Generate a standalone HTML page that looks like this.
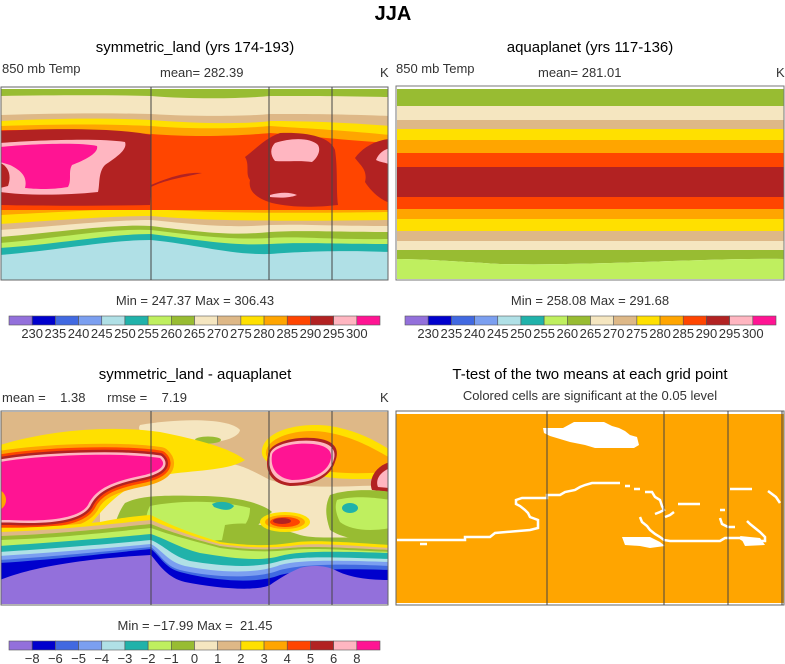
<!DOCTYPE html>
<html><head><meta charset="utf-8"><style>
body{margin:0;background:#fff;}
svg{display:block;font-family:"Liberation Sans",sans-serif;}
</style></head><body>
<svg id="fig" width="785" height="664" viewBox="0 0 785 664">
<text x="393" y="20" font-size="20" font-weight="bold" text-anchor="middle">JJA</text>

<text x="195" y="52" font-size="15" text-anchor="middle">symmetric_land (yrs 174-193)</text>
<text x="2" y="73" font-size="13" fill="#333">850 mb Temp</text>
<text x="160" y="77" font-size="13" fill="#333">mean= 282.39</text>
<text x="380" y="77" font-size="13" fill="#333">K</text>

<text x="590" y="52" font-size="15" text-anchor="middle">aquaplanet (yrs 117-136)</text>
<text x="396" y="73" font-size="13" fill="#333">850 mb Temp</text>
<text x="538" y="77" font-size="13" fill="#333">mean= 281.01</text>
<text x="776" y="77" font-size="13" fill="#333">K</text>

<!-- Panel 1: symmetric_land -->
<g>
<clipPath id="c1"><rect x="1" y="87" width="387" height="193"/></clipPath>
<g clip-path="url(#c1)">
<rect x="1" y="87" width="387" height="193" fill="#B0E0E6"/>
<path d="M0 255 C60 250 110 240 151 240 C200 245 230 255 270 254 C300 252 330 250 390 252 L390 87 L0 87Z" fill="#20B2AA"/>
<path d="M0 248 C60 244 110 234 151 234 C200 240 230 246 270 244 C300 242 330 244 390 244 L390 87 L0 87Z" fill="#BFEF5F"/>
<path d="M0 243 C60 238 110 228 151 230 C200 236 230 240 270 238 C300 236 330 240 390 239 L390 87 L0 87Z" fill="#98BC32"/>
<path d="M0 237 C60 232 110 224 151 226 C200 232 230 236 270 232 C300 230 330 232 390 232 L390 87 L0 87Z" fill="#F5E6C0"/>
<path d="M0 230 C60 226 110 220 151 220 C200 225 230 228 270 225 C300 224 330 226 390 226 L390 87 L0 87Z" fill="#DEB887"/>
<path d="M0 224 C60 220 110 216 151 216 C200 220 250 222 390 220 L390 87 L0 87Z" fill="#FFE000"/>
<path d="M0 215 C60 212 110 209 151 209 C200 212 250 214 390 212 L390 87 L0 87Z" fill="#FFA500"/>
<path d="M0 210 L390 210 L390 87 L0 87Z" fill="#FF4500"/>
<path d="M0 130 C60 130 110 132 151 134 C200 138 250 135 270 133 C300 135 340 140 390 143 L390 87 L0 87Z" fill="#FFA500"/>
<path d="M0 126 C60 124 110 124 151 126 C200 130 250 128 270 126 C300 128 340 130 390 135 L390 87 L0 87Z" fill="#FFE000"/>
<path d="M0 121 C60 118 110 118 151 120 C200 124 250 124 270 121 C300 121 340 122 390 126 L390 87 L0 87Z" fill="#DEB887"/>
<path d="M0 115 C60 113 110 113 151 114 C200 117 250 116 270 114 C300 114 340 114 390 116 L390 87 L0 87Z" fill="#F5E6C0"/>
<path d="M0 96 C60 95 110 95 151 96 C200 100 250 98 270 96 C300 96 340 96 390 97 L390 87 L0 87Z" fill="#98BC32"/>
<rect x="0" y="87" width="390" height="2" fill="#fff"/>
<path d="M0 131 C50 128 120 128 151 135 L151 185 C170 177 185 172 202 173 C180 178 165 180 151 187 L150 205 C100 206 40 206 0 205Z" fill="#B22222"/>
<path d="M0 143 C40 140 100 138 125 142 C128 150 115 158 105 165 C98 172 100 185 98 192 C60 196 20 195 0 192Z" fill="#FFB6C1"/>
<path d="M0 147 C30 144 80 142 97 146 C99 153 85 160 72 165 C68 172 72 180 68 187 C50 190 35 189 25 188 C28 176 20 170 10 165 L0 162Z" fill="#FF1493"/>
<path d="M0 163 C8 166 12 175 8 186 L0 188Z" fill="#B22222"/>
<path d="M280 133 C305 132 330 136 335 150 C338 170 336 190 338 205 C310 208 290 207 272 203 C255 198 248 190 250 180 C245 174 250 165 245 157 C255 150 265 138 280 133Z" fill="#B22222"/>
<path d="M275 143 C290 138 310 137 318 145 C322 152 315 160 312 162 C300 160 285 162 275 161 C270 155 270 148 275 143Z" fill="#FFB6C1"/>
<path d="M270 195 C280 192 290 192 297 195 C290 198 280 198 270 197Z" fill="#FFB6C1"/>
<path d="M390 139 C375 140 362 148 355 158 C360 165 368 170 365 182 C370 190 380 200 390 203Z" fill="#B22222"/>
<path d="M390 148 C382 150 378 155 376 160 C382 163 386 162 390 165Z" fill="#FFB6C1"/>
</g>
<rect x="1" y="87" width="387" height="193" fill="none" stroke="#666" stroke-width="1"/>
<line x1="151" y1="87" x2="151" y2="280" stroke="#444"/>
<line x1="269" y1="87" x2="269" y2="280" stroke="#444"/>
<line x1="332" y1="87" x2="332" y2="280" stroke="#444"/>
</g>

<!-- Panel 2: aquaplanet -->
<g>
<rect x="396" y="87" width="388" height="193" fill="#fff"/>
<rect x="397" y="89" width="387" height="18" fill="#98BC32"/>
<rect x="397" y="106" width="387" height="14" fill="#F5E6C0"/>
<rect x="397" y="120" width="387" height="9" fill="#DEB887"/>
<rect x="397" y="129" width="387" height="11" fill="#FFE000"/>
<rect x="397" y="140" width="387" height="13" fill="#FFA500"/>
<rect x="397" y="153" width="387" height="14" fill="#FF4500"/>
<rect x="397" y="167" width="387" height="30" fill="#B22222"/>
<rect x="397" y="197" width="387" height="12" fill="#FF4500"/>
<rect x="397" y="209" width="387" height="10" fill="#FFA500"/>
<rect x="397" y="219" width="387" height="12" fill="#FFE000"/>
<rect x="397" y="231" width="387" height="10" fill="#DEB887"/>
<rect x="397" y="241" width="387" height="9" fill="#F5E6C0"/>
<path d="M397 250 L784 250 L784 259 C700 258 600 266 500 264 C450 261 420 259 397 259Z" fill="#98BC32"/>
<path d="M397 259 C420 259 450 261 500 264 C600 266 700 258 784 259 L784 279 L397 279Z" fill="#BFEF5F"/>
<rect x="396" y="86" width="388" height="194" fill="none" stroke="#777" stroke-width="1"/>
</g>

<text x="195" y="305" font-size="13" fill="#333" text-anchor="middle">Min = 247.37 Max = 306.43</text>
<text x="590" y="305" font-size="13" fill="#333" text-anchor="middle">Min = 258.08 Max = 291.68</text>
<g id="cb1"></g>
<g id="cb2"></g>

<text x="195" y="379" font-size="15" text-anchor="middle">symmetric_land - aquaplanet</text>
<text x="2" y="402" font-size="13" fill="#333" xml:space="preserve">mean =    1.38      rmse =    7.19</text>
<text x="380" y="402" font-size="13" fill="#333">K</text>

<!-- Panel 3: difference -->
<g>
<clipPath id="c3"><rect x="1" y="412" width="387" height="193"/></clipPath>
<g clip-path="url(#c3)">
<rect x="0" y="410" width="390" height="196" fill="#DEB887"/>
<path d="M140 425 C180 418 230 418 240 430 C238 442 200 446 170 443 C150 440 135 432 140 425Z" fill="#F5E6C0"/>
<ellipse cx="208" cy="440" rx="13" ry="3.5" fill="#98BC32"/>
<!-- middle cream region -->
<path d="M100 490 C130 470 170 460 210 462 C240 462 250 470 270 480 C300 490 350 486 390 485 L390 545 L100 545Z" fill="#F5E6C0"/>
<!-- yellow fringe -->
<path d="M0 445 C50 430 110 425 160 432 C200 440 230 448 245 460 C230 470 200 470 170 474 C130 480 110 500 90 525 C60 535 20 535 0 535Z" fill="#FFE000"/>
<!-- left magenta blob with rings -->
<g stroke-linejoin="round">
<path id="blobL" d="M0 462 C40 455 120 452 160 458 C168 465 160 472 140 476 C110 482 95 490 88 505 C80 518 50 522 10 520 L0 520Z" fill="#FFA500" stroke="#FFA500" stroke-width="22"/>
<path d="M0 462 C40 455 120 452 160 458 C168 465 160 472 140 476 C110 482 95 490 88 505 C80 518 50 522 10 520 L0 520Z" fill="#FF4500" stroke="#FF4500" stroke-width="15"/>
<path d="M0 462 C40 455 120 452 160 458 C168 465 160 472 140 476 C110 482 95 490 88 505 C80 518 50 522 10 520 L0 520Z" fill="#B22222" stroke="#B22222" stroke-width="10"/>
<path d="M0 462 C40 455 120 452 160 458 C168 465 160 472 140 476 C110 482 95 490 88 505 C80 518 50 522 10 520 L0 520Z" fill="#FFB6C1" stroke="#FFB6C1" stroke-width="5"/>
<path d="M0 462 C40 455 120 452 160 458 C168 465 160 472 140 476 C110 482 95 490 88 505 C80 518 50 522 10 520 L0 520Z" fill="#FF1493"/>
</g>
<path d="M0 490 C8 495 8 505 0 510Z" fill="#FFA500"/>
<!-- right yellow/magenta blob -->
<path d="M262 450 C265 430 300 422 330 426 C355 430 375 440 390 450 L390 478 C360 480 320 480 300 470 C275 468 260 462 262 450Z" fill="#FFE000"/>
<path d="M266 452 C268 436 300 428 325 432 C350 436 370 446 390 458 L390 472 C360 474 330 474 310 468 C285 466 264 462 266 452Z" fill="#FFA500"/>
<path d="M268 455 C268 444 290 436 314 438 C336 440 340 450 335 462 C330 478 312 486 290 486 C272 484 264 472 268 455Z" fill="#B22222"/>
<path d="M270 455 C270 446 291 439 314 441 C334 443 337 452 333 462 C328 476 311 483 290 483 C274 481 267 470 270 455Z" fill="#FFB6C1"/>
<path d="M272 455 C273 448 292 442 313 444 C331 446 333 454 330 462 C325 474 310 480 292 480 C277 478 270 468 272 455Z" fill="#FF1493"/>
<path d="M390 462 C375 466 368 480 372 490 L390 492Z" fill="#B22222"/>
<path d="M390 468 C380 472 375 480 378 487 L390 488Z" fill="#FFB6C1"/>
<!-- right green area -->
<path d="M330 495 C350 488 380 490 390 492 L390 540 C370 542 345 540 330 530 C325 515 325 505 330 495Z" fill="#98BC32"/>
<path d="M337 500 C355 495 378 498 390 500 L390 528 C370 532 350 530 340 522 C335 512 335 505 337 500Z" fill="#BFEF5F"/>
<ellipse cx="350" cy="508" rx="8" ry="5" fill="#20B2AA"/>
<!-- middle green -->
<path d="M125 503 C140 496 160 495 200 496 C240 496 265 505 272 512 C262 520 248 535 245 542 C220 546 195 545 165 543 C140 542 125 540 110 537 C115 525 118 512 125 503Z" fill="#98BC32"/>
<path d="M150 506 C180 500 220 500 250 508 C250 520 245 530 225 540 C200 542 175 538 150 536 C145 525 145 515 150 506Z" fill="#BFEF5F"/>
<path d="M212 504 C220 500 230 502 234 506 C230 512 222 510 214 507Z" fill="#20B2AA"/>
<path d="M225 525 C250 520 280 528 300 535 C320 540 340 535 390 540 L390 548 L220 550Z" fill="#98BC32"/>
<!-- red spot -->
<ellipse cx="285" cy="522" rx="25" ry="10" fill="#FFE000"/>
<ellipse cx="285" cy="522" rx="20" ry="7" fill="#FFA500"/>
<ellipse cx="285" cy="522" rx="15" ry="5" fill="#FF4500"/>
<ellipse cx="282" cy="521" rx="9" ry="3" fill="#B22222"/>
<!-- lower bands -->
<path d="M0 528 C40 528 80 524 100 522 C120 518 135 516 151 515 C170 525 190 533 220 542 C250 546 270 546 290 543 C310 540 330 541 390 545 L390 606 L0 606Z" fill="#FFE000"/>
<path d="M0 532 C60 530 110 524 151 520 C170 528 190 536 220 544 C250 548 270 548 290 546 C310 543 330 544 390 548 L390 606 L0 606Z" fill="#DEB887"/>
<path d="M0 536 C60 534 110 528 151 524 C170 532 190 538 220 546 C250 550 270 550 290 548 C310 546 330 547 390 550 L390 606 L0 606Z" fill="#98BC32"/>
<path d="M0 540 C60 538 110 532 151 528 C170 535 190 540 220 548 C250 552 270 552 290 550 C310 548 330 549 390 552 L390 606 L0 606Z" fill="#BFEF5F"/>
<path d="M0 546 C60 542 110 538 151 534 C168 540 180 548 200 553 C230 558 260 562 280 556 C300 551 330 551 390 553 L390 606 L0 606Z" fill="#20B2AA"/>
<path d="M0 552 C60 548 110 544 151 540 C165 546 172 556 190 561 C220 566 255 569 280 561 C300 556 330 557 390 559 L390 606 L0 606Z" fill="#B0E0E6"/>
<path d="M0 556 C60 552 110 548 151 544 C162 550 168 562 185 566 C215 572 255 575 280 565 C300 560 330 560 390 562 L390 606 L0 606Z" fill="#7B9FF0"/>
<path d="M0 560 C60 556 110 551 151 547 C160 554 165 566 180 570 C210 577 255 580 280 570 C300 565 330 563 390 566 L390 606 L0 606Z" fill="#4169E1"/>
<path d="M0 563 C60 559 110 553 151 549 C160 556 165 568 180 572 C210 580 255 585 280 575 C300 570 330 568 390 570 L390 606 L0 606Z" fill="#0000CD"/>
<path d="M0 580 C20 572 60 560 151 555 C160 566 168 578 185 582 C215 588 255 592 270 585 C280 578 290 572 300 568 C310 565 325 565 335 570 C350 578 370 580 390 580 L390 606 L0 606Z" fill="#9370DB"/>
<rect x="0" y="604" width="390" height="2" fill="#fff"/>
</g>
<rect x="1" y="411" width="387" height="194" fill="none" stroke="#666" stroke-width="1"/>
<line x1="151" y1="411" x2="151" y2="605" stroke="#444"/>
<line x1="269" y1="411" x2="269" y2="605" stroke="#444"/>
<line x1="332" y1="411" x2="332" y2="605" stroke="#444"/>
</g>

<text x="590" y="379" font-size="15" text-anchor="middle">T-test of the two means at each grid point</text>
<text x="590" y="400" font-size="13" fill="#333" text-anchor="middle">Colored cells are significant at the 0.05 level</text>

<!-- Panel 4: t-test -->
<g>
<rect x="396" y="412" width="388" height="193" fill="#FFA500"/>
<rect x="396" y="411" width="388" height="3" fill="#fff"/>
<rect x="396" y="603" width="388" height="2" fill="#fff"/>
<path d="M543 428 L563 428 L574 422 L604 422 L612 426 L619 428 L625 431 L630 435 L637 437 L639 445 L634 448 L595 448 L585 445 L570 442 L560 439 L550 436 L544 433Z" fill="#fff"/>
<g fill="none" stroke="#fff" stroke-width="2.5" stroke-linejoin="miter">
<polyline points="397,540 465,540 465,537 490,537 495,533 530,530 538,528 538,520 530,517 528,513 525,510 520,506 516,504 516,500 522,498 547,498 547,495 560,495 565,492 575,490 580,487 585,485 592,483 620,483"/>
<polyline points="420,544 427,544"/>
<polyline points="625,486 630,486"/>
<polyline points="634,489 640,489"/>
<polyline points="645,492 652,492 655,497 660,500 662,506 664,510 660,512 655,514"/>
<polyline points="640,517 642,522 647,526 650,530 655,534 660,537 664,540 670,541 720,541 725,538 740,538 745,541 765,541 765,537 760,532 755,528 750,524 747,521"/>
<polyline points="678,504 700,504"/>
<polyline points="730,489 752,489"/>
<polyline points="768,491 776,497 780,503"/>
<polyline points="720,510 725,510"/>
<polyline points="720,518 722,524 728,527 735,527"/>
<polyline points="674,512 670,515 665,517"/>
</g>
<path d="M622 537 L650 537 L660 542 L665 546 L650 548 L640 546 L625 545Z" fill="#fff"/>
<path d="M740 536 L760 538 L765 545 L745 546Z" fill="#fff"/>
<rect x="396" y="411" width="388" height="194" fill="none" stroke="#666" stroke-width="1"/>
<line x1="547" y1="411" x2="547" y2="605" stroke="#444"/>
<line x1="664" y1="411" x2="664" y2="605" stroke="#444"/>
<line x1="728" y1="411" x2="728" y2="605" stroke="#444"/>
<line x1="782" y1="411" x2="782" y2="605" stroke="#444"/>
</g>

<text x="195" y="630" font-size="13" fill="#333" text-anchor="middle" xml:space="preserve">Min = −17.99 Max =  21.45</text>
<g id="cb3"></g>
</svg>
<script>
const colors = ["#9370DB","#0000CD","#4169E1","#7B9FF0","#B0E0E6","#20B2AA","#BFEF5F","#98BC32","#F5E6C0","#DEB887","#FFE000","#FFA500","#FF4500","#B22222","#FFB6C1","#FF1493"];
const tempLevels = ["230","235","240","245","250","255","260","265","270","275","280","285","290","295","300"];
const diffLevels = ["−8","−6","−5","−4","−3","−2","−1","0","1","2","3","4","5","6","8"];
const NS = "http://www.w3.org/2000/svg";
function colorbar(id, x0, x1, y, labels) {
  const g = document.getElementById(id);
  const w = (x1 - x0) / colors.length;
  colors.forEach((c, i) => {
    const r = document.createElementNS(NS, "rect");
    r.setAttribute("x", x0 + i * w); r.setAttribute("y", y);
    r.setAttribute("width", w); r.setAttribute("height", 9);
    r.setAttribute("fill", c); r.setAttribute("stroke", "#555"); r.setAttribute("stroke-width", "0.6");
    
    
    g.appendChild(r);
  });
  labels.forEach((l, i) => {
    const t = document.createElementNS(NS, "text");
    t.setAttribute("x", x0 + (i + 1) * w); t.setAttribute("y", y + 22);
    t.setAttribute("font-size", "13"); t.setAttribute("fill", "#333");
    t.setAttribute("text-anchor", "middle");
    t.textContent = l;
    
    
    g.appendChild(t);
  });
}
colorbar("cb1", 9, 380, 316, tempLevels);
colorbar("cb2", 405, 776, 316, tempLevels);
colorbar("cb3", 9, 380, 641, diffLevels);
</script>
</body></html>
